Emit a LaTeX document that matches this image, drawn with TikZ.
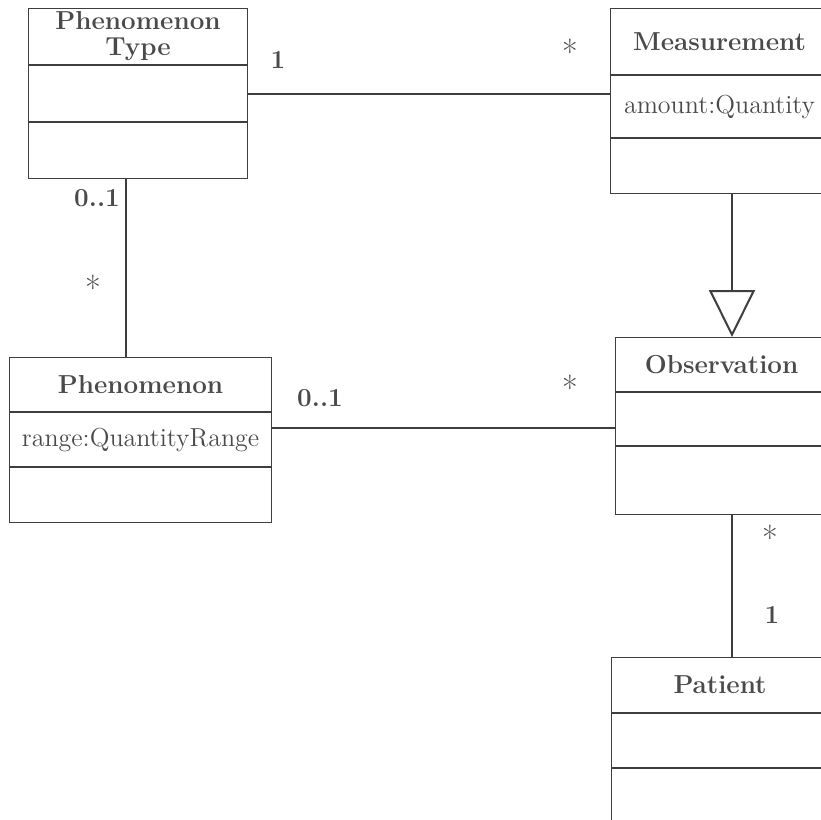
\documentclass[tikz,border=0pt]{standalone}
\definecolor{Ink}{HTML}{3E3E3E}
\definecolor{Txt}{HTML}{4A4A4A}
\usepackage{tikz}
\usetikzlibrary{positioning,arrows.meta}
\newcommand\umlfont{\fontsize{13}{15}\selectfont}

\begin{document}
\begin{tikzpicture}[x=0.5pt,y=-0.5pt,
          cls/.style={draw=Ink,line width=0.55pt,anchor=north west,
                      inner sep=0pt,text=Txt,font=\umlfont},
          title/.style={cls,font=\umlfont\bfseries,align=center},
          link/.style={draw=Ink,line width=1pt},
          mult/.style={text=Txt,font=\umlfont\bfseries,inner sep=0pt},
          many/.style={text=Txt,font=\fontsize{17}{20}\selectfont,inner sep=0pt}]
        \useasboundingbox (0,0) rectangle (821,820);
        \clip (0,0) rectangle (821,820);
        \node[title,minimum width=109.5pt,minimum height=28pt] (pt) at (28,8) {Phenomenon\\[-2pt]Type};
        \node[cls,minimum width=109.5pt,minimum height=28pt,below=0pt of pt] (pt-a) {};
        \node[cls,minimum width=109.5pt,minimum height=28pt,below=0pt of pt-a] (pt-o) {};
        \node[title,minimum width=109pt,minimum height=33pt] (meas) at (610,8) {Measurement};
        \node[cls,minimum width=109pt,minimum height=31pt,below=0pt of meas] (meas-a) {amount:Quantity};
        \node[cls,minimum width=109pt,minimum height=27.5pt,below=0pt of meas-a] (meas-o) {};
        \node[title,minimum width=131pt,minimum height=27pt] (phen) at (9,357) {Phenomenon};
        \node[cls,minimum width=131pt,minimum height=27pt,below=0pt of phen] (phen-a) {range:QuantityRange};
        \node[cls,minimum width=131pt,minimum height=27.5pt,below=0pt of phen-a] (phen-o) {};
        \node[title,minimum width=106pt,minimum height=27pt] (obs) at (615,337) {Observation};
        \node[cls,minimum width=106pt,minimum height=26.5pt,below=0pt of obs] (obs-a) {};
        \node[cls,minimum width=106pt,minimum height=34pt,below=0pt of obs-a] (obs-o) {};
        \node[title,minimum width=108.5pt,minimum height=27.5pt] (pat) at (611,657) {Patient};
        \node[cls,minimum width=108.5pt,minimum height=27pt,below=0pt of pat] (pat-a) {};
        \node[cls,minimum width=108.5pt,minimum height=30pt,below=0pt of pat-a] (pat-o) {};
        \draw[link] (pt-a.east) -- (pt-a.east -| meas-a.west);
        \draw[link] (pt-o.south -| 126,0) -- (phen.north -| 126,0);
        \draw[link] (phen-a.east |- 0,428) -- (obs-a.west |- 0,428);
        \draw[link,-{Triangle[open,length=23.5pt,width=23pt,fill=white]}] (meas-o.south -| 732,0) -- (obs.north -| 732,0);
        \draw[link] (obs-o.south -| 732,0) -- (pat.north -| 732,0);
        \node[mult] (m1) at (278,60) {1};
        \node[many] (m2) at (570,52) {*};
        \node[mult] (m3) at (97,198) {0..1};
        \node[many] (m4) at (93,288) {*};
        \node[mult] (m5) at (320,398) {0..1};
        \node[many] (m6) at (570,388) {*};
        \node[many] (m7) at (770,538) {*};
        \node[mult] (m8) at (772,615) {1};
      \end{tikzpicture}
\end{document}
